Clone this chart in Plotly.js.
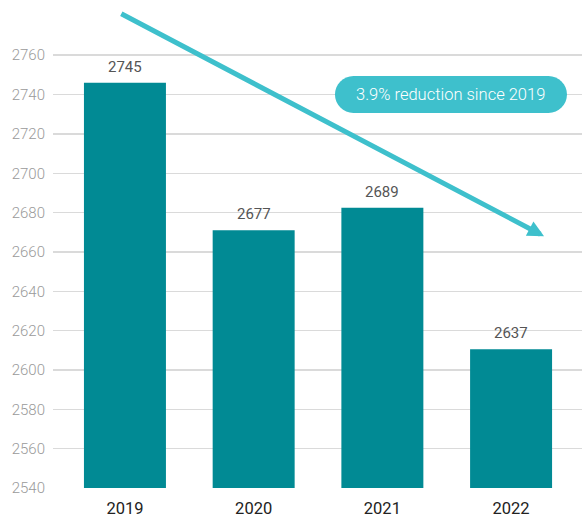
<!DOCTYPE html>
<html>
<head>
<meta charset="utf-8">
<script src="https://cdn.plot.ly/plotly-3.0.1.min.js"></script>
<style>html,body{margin:0;padding:0;background:#fff;}#chart{width:582px;height:519px;}</style>
</head>
<body>
<div id="chart"></div>
<script>
// Data
const years = ['2019', '2020', '2021', '2022'];
const barValues = [2746, 2671, 2682.5, 2610.5];     // bar heights as drawn
const barLabels = ['2745', '2677', '2689', '2637']; // printed value labels
const yTicks = [2540, 2560, 2580, 2600, 2620, 2640, 2660, 2680, 2700, 2720, 2740, 2760];
const calloutText = '3.9% reduction since 2019';

const teal = '#018a94';
const light = '#3ec0cc';

const trace = {
  type: 'bar',
  x: years,
  y: barValues,
  marker: {color: teal},
  hoverinfo: 'skip'
};

const annotations = years.map((yr, i) => ({
  x: i, y: barValues[i], xref: 'x', yref: 'y',
  text: barLabels[i], showarrow: false,
  yanchor: 'middle', yshift: 16,
  font: {family: 'Roboto, sans-serif', size: 15, color: '#555555'}
}));

// trend arrow (tail near 2019 top, head beyond 2022)
annotations.push({
  xref: 'x', yref: 'y', axref: 'x', ayref: 'y',
  x: 3.256, y: 2668, ax: -0.04, ay: 2781.5,
  text: '', showarrow: true,
  arrowhead: 2, arrowsize: 0.65, arrowwidth: 5, arrowcolor: light, standoff: 0
});

// callout text
annotations.push({
  x: 2.533, y: 2740, xref: 'x', yref: 'y',
  text: calloutText, showarrow: false,
  font: {family: 'Roboto, sans-serif', size: 16.5, color: '#ffffff', weight: 300}
});

// pill shape (pixel-sized, anchored at callout)
function pillPath(hw, hh) {
  const r = hh, k = 0.5523 * r;
  return 'M' + (-hw + r) + ',' + (-hh) +
    ' L' + (hw - r) + ',' + (-hh) +
    ' C' + (hw - r + k) + ',' + (-hh) + ' ' + hw + ',' + (-k) + ' ' + hw + ',0' +
    ' C' + hw + ',' + k + ' ' + (hw - r + k) + ',' + hh + ' ' + (hw - r) + ',' + hh +
    ' L' + (-hw + r) + ',' + hh +
    ' C' + (-hw + r - k) + ',' + hh + ' ' + (-hw) + ',' + k + ' ' + (-hw) + ',0' +
    ' C' + (-hw) + ',' + (-k) + ' ' + (-hw + r - k) + ',' + (-hh) + ' ' + (-hw + r) + ',' + (-hh) + ' Z';
}

const shapes = [{
  type: 'path', xref: 'x', yref: 'y',
  xsizemode: 'pixel', ysizemode: 'pixel',
  xanchor: 2.533, yanchor: 2740,
  path: pillPath(116, 18.5),
  fillcolor: light, line: {width: 0}, layer: 'above'
}];

const layout = {
  width: 582, height: 519,
  margin: {l: 53, r: 0, t: 8, b: 31, pad: 0},
  paper_bgcolor: '#ffffff', plot_bgcolor: '#ffffff',
  showlegend: false,
  bargap: 0.363,
  font: {family: 'Roboto, sans-serif'},
  xaxis: {
    type: 'category',
    range: [-0.559, 3.551],
    showgrid: false, zeroline: false, showline: false,
    ticks: '', ticklabelstandoff: 8,
    tickfont: {family: 'Roboto, sans-serif', size: 16.5, color: '#222222'},
    fixedrange: true
  },
  yaxis: {
    range: [2540, 2784],
    tickvals: yTicks,
    ticktext: yTicks.map(String),
    showgrid: true, gridcolor: '#dadada', gridwidth: 1.5,
    zeroline: false, showline: false,
    ticks: '', ticklabelstandoff: 7,
    tickfont: {family: 'Roboto, sans-serif', size: 15, color: '#9a9a9a', weight: 300},
    fixedrange: true
  },
  annotations: annotations,
  shapes: shapes
};

Plotly.newPlot('chart', [trace], layout, {displayModeBar: false, staticPlot: true});
</script>
</body>
</html>
